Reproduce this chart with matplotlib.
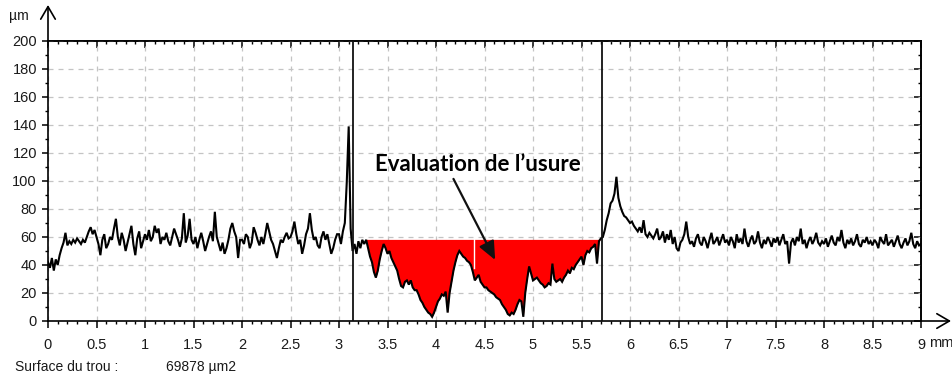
import numpy as np
import matplotlib
matplotlib.use("Agg")
import matplotlib.pyplot as plt
from matplotlib.ticker import MultipleLocator, FuncFormatter

# ---------------- data (profile height in µm, sampled every 0.02 mm) ----------------
seg_000 = [42, 38, 45, 36, 44, 40, 47, 52, 56, 63, 54, 57, 55, 58, 56, 59, 57, 55, 58, 56, 60, 64, 67, 62, 65]
seg_050 = [60, 55, 47, 58, 62, 52, 55, 60, 58, 66, 73, 60, 54, 63, 58, 50, 56, 62, 68, 55, 47, 59, 64, 52, 57]
seg_100 = [62, 58, 65, 57, 60, 68, 63, 66, 55, 60, 58, 63, 57, 54, 60, 66, 62, 58, 53, 59, 77, 56, 61, 73, 58]
seg_150 = [55, 60, 52, 58, 63, 57, 50, 55, 60, 64, 57, 78, 60, 55, 50, 56, 48, 52, 58, 66, 70, 64, 60, 45, 58]
seg_200 = [58, 55, 62, 60, 52, 56, 67, 63, 58, 54, 60, 55, 62, 70, 64, 58, 55, 50, 45, 52, 58, 56, 60, 63, 59]
seg_250 = [60, 64, 71, 62, 55, 58, 48, 54, 62, 66, 77, 65, 58, 60, 54, 52, 60, 64, 58, 62, 55, 48, 52, 58, 62]
seg_300 = [62, 55, 64, 70, 99, 139, 66, 50, 55, 48, 57, 52, 58, 55, 58, 52, 46, 42, 35, 31, 36, 44, 50, 55, 52]
seg_350 = [48, 50, 45, 42, 39, 36, 30, 25, 24, 28, 29, 26, 29, 24, 22, 22, 19, 15, 13, 10, 8, 6, 5, 3, 6]
seg_400 = [10, 14, 16, 19, 18, 21, 6, 20, 28, 36, 42, 47, 50, 48, 46, 45, 43, 42, 40, 35, 29, 31, 33, 28, 26]
seg_450 = [24, 24, 22, 21, 20, 19, 17, 16, 15, 12, 10, 8, 5, 4, 6, 5, 8, 12, 15, 14, 3, 20, 30, 39, 34]
seg_500 = [29, 30, 31, 29, 27, 26, 24, 25, 27, 26, 41, 30, 28, 29, 30, 28, 31, 33, 36, 34, 38, 37, 40, 42, 44]
seg_550 = [46, 40, 47, 50, 49, 52, 53, 55, 41, 57, 59, 60, 65, 72, 77, 84, 86, 91, 103, 88, 82, 78, 75, 74, 72]
seg_600 = [70, 71, 68, 66, 64, 67, 63, 72, 62, 60, 63, 61, 59, 62, 66, 58, 60, 64, 56, 62, 58, 65, 55, 60, 52]
seg_650 = [50, 56, 58, 62, 71, 60, 55, 57, 53, 59, 62, 56, 54, 60, 57, 52, 58, 63, 55, 57, 60, 54, 58, 62, 56]
seg_700 = [58, 54, 60, 57, 52, 62, 56, 59, 55, 66, 57, 53, 58, 61, 55, 57, 64, 56, 52, 58, 55, 60, 57, 53, 59]
seg_750 = [56, 60, 54, 58, 62, 55, 57, 41, 56, 59, 54, 60, 57, 66, 55, 58, 52, 57, 60, 55, 58, 63, 56, 54, 57]
seg_800 = [55, 59, 53, 57, 61, 56, 54, 60, 57, 65, 56, 52, 58, 55, 59, 54, 57, 62, 55, 53, 58, 56, 60, 55, 57]
seg_850 = [54, 58, 56, 52, 60, 57, 55, 62, 54, 56, 58, 53, 57, 61, 55, 52, 56, 59, 54, 57, 63, 55, 52, 57, 54]
seg_end = [55]

profile = np.array(seg_000 + seg_050 + seg_100 + seg_150 + seg_200 + seg_250 + seg_300 +
                   seg_350 + seg_400 + seg_450 + seg_500 + seg_550 + seg_600 + seg_650 +
                   seg_700 + seg_750 + seg_800 + seg_850 + seg_end, dtype=float)
x_min, x_max = 0.0, 9.0
x = np.linspace(x_min, x_max, len(profile))

cursor_left = 3.144
cursor_right = 5.715
wear_start = 3.27
wear_end = 5.70
wear_level = 58.3
white_mark = 4.39

annotation_text = "Evaluation de l\u2019usure"
surface_label = "Surface du trou :"
surface_value = "69878 \u00b5m2"

# ---------------- figure ----------------
W, H = 952, 380
fig = plt.figure(figsize=(W / 100, H / 100), dpi=100)
ax = fig.add_axes([48 / W, 1 - 321 / H, (921 - 48) / W, (321 - 41) / H])

font = ["Liberation Sans", "DejaVu Sans"]
tick_color = "#1a1a1a"

ax.set_xlim(x_min, x_max)
ax.set_ylim(0, 200)

# grid
ax.xaxis.set_major_locator(MultipleLocator(0.5))
ax.xaxis.set_minor_locator(MultipleLocator(0.1))
ax.yaxis.set_major_locator(MultipleLocator(20))
ax.yaxis.set_minor_locator(MultipleLocator(10))
ax.grid(True, which="major", color="#c4c4c4", linestyle=(0, (4, 4)), linewidth=0.9)
ax.set_axisbelow(True)

# red wear area
mask = (x >= wear_start) & (x <= wear_end)
ax.fill_between(x, profile, wear_level, where=mask & (profile < wear_level),
                interpolate=True, color="#ff0000", linewidth=0, zorder=2)
idx = np.argmin(np.abs(x - white_mark))
ax.plot([white_mark, white_mark], [profile[idx] + 3, wear_level], color="white", lw=1.0, zorder=2.5)

# profile
ax.plot(x, profile, color="black", lw=1.5, zorder=3, solid_joinstyle="miter")

# cursors
ax.plot([cursor_left, cursor_left], [0, 200], color="#111111", lw=1.3, zorder=4)
ax.plot([cursor_right, cursor_right], [0, 200], color="#111111", lw=1.3, zorder=4)

# spines and ticks
for s in ax.spines.values():
    s.set_color("black")
    s.set_linewidth(1.2)

fmt = FuncFormatter(lambda v, p: "%g" % v)
ax.xaxis.set_major_formatter(fmt)
ax.tick_params(axis="x", which="major", direction="out", length=5, width=1.1, pad=7,
               labelsize=10.5, labelcolor=tick_color, top=False)
ax.tick_params(axis="x", which="minor", direction="out", length=2.5, width=1.0, top=False)
ax.tick_params(axis="y", which="major", direction="out", length=4, width=1.1, pad=4,
               labelsize=10.5, labelcolor=tick_color, right=False)
ax.tick_params(axis="y", which="minor", direction="out", length=2.5, width=1.0, right=False)
for lab in ax.get_xticklabels() + ax.get_yticklabels():
    lab.set_family(font)

secx = ax.secondary_xaxis("top")
secx.xaxis.set_major_locator(MultipleLocator(0.5))
secx.xaxis.set_minor_locator(MultipleLocator(0.1))
secx.tick_params(which="major", direction="in", length=5, width=1.1, labeltop=False)
secx.tick_params(which="minor", direction="in", length=2.5, width=1.0)
secx.spines["top"].set_linewidth(1.2)

secy = ax.secondary_yaxis("right")
secy.yaxis.set_major_locator(MultipleLocator(20))
secy.yaxis.set_minor_locator(MultipleLocator(10))
secy.tick_params(which="major", direction="in", length=5, width=1.1, labelright=False)
secy.tick_params(which="minor", direction="in", length=2.5, width=1.0)
secy.spines["right"].set_linewidth(1.2)

# axis arrows (figure pixel coordinates)
def px(xp, yp):
    return (xp / W, 1 - yp / H)

fig.add_artist(matplotlib.patches.FancyArrowPatch(px(48, 41), px(48, 5), transform=fig.transFigure,
               arrowstyle="->,head_length=6,head_width=3.5", lw=1.2, color="black",
               mutation_scale=1.5, shrinkA=0, shrinkB=0))
fig.add_artist(matplotlib.patches.FancyArrowPatch(px(921, 321), px(951, 321), transform=fig.transFigure,
               arrowstyle="->,head_length=6,head_width=3.5", lw=1.2, color="black",
               mutation_scale=1.5, shrinkA=0, shrinkB=0))

fig.text(*px(9, 16), "\u00b5m", ha="left", va="center", fontsize=10, family=font, color=tick_color)
fig.text(*px(929, 343), "mm", ha="left", va="center", fontsize=10.5, family=font, color=tick_color)
fig.text(*px(15, 367), surface_label, ha="left", va="center", fontsize=10, family=font, color=tick_color)
fig.text(*px(166, 367), surface_value, ha="left", va="center", fontsize=10, family=font, color=tick_color)

# annotation
ax.text(4.43, 111.5, annotation_text, ha="center", va="center", fontsize=16,
        fontweight="bold", family=["Lato", "DejaVu Sans"], color="black", zorder=6)
ax.annotate("", xy=(4.61, 43.6), xytext=(4.18, 101.5),
            arrowprops=dict(arrowstyle="-|>,head_length=0.8,head_width=0.35", lw=1.6,
                            color="#111111", shrinkA=0, shrinkB=0, mutation_scale=14),
            zorder=6)

fig.savefig("out.png", dpi=100)
